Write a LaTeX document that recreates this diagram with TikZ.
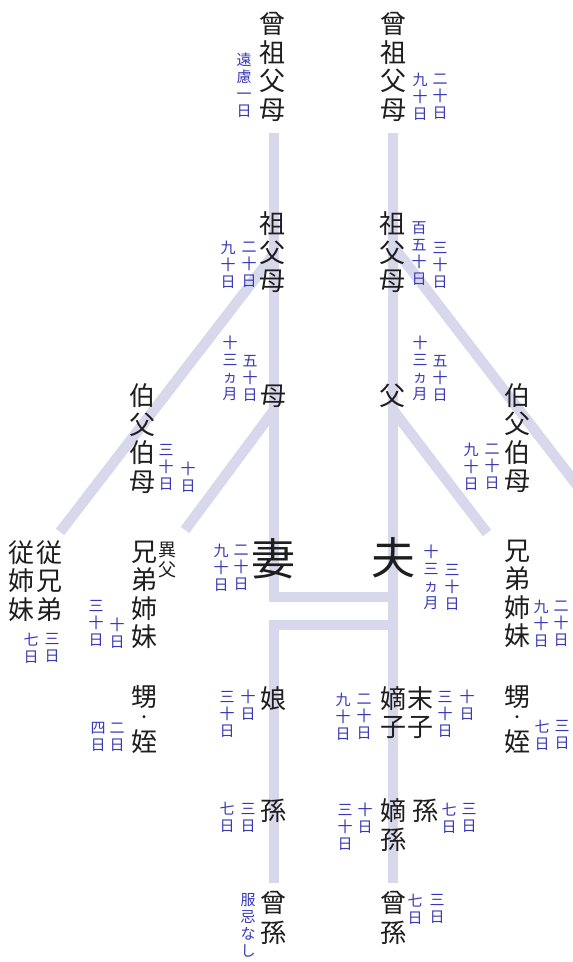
\documentclass[tikz,border=0pt]{standalone}
\usepackage{fontspec}
\newfontfamily\jp{Noto Sans CJK JP}
\definecolor{bandcol}{RGB}{216,216,237}
\definecolor{noteblue}{RGB}{55,55,185}
\definecolor{kinblack}{RGB}{30,30,30}
\tikzset{
  kin/.style={font=\jp\fontsize{26}{28.5}\selectfont, align=center, inner sep=0pt, text=kinblack},
  kinB/.style={font=\jp\fontsize{26}{30}\selectfont, align=center, inner sep=0pt, text=kinblack},
  note/.style={font=\jp\fontsize{15}{17}\selectfont, align=center, inner sep=0pt, text=noteblue},
  bigkin/.style={font=\jp\fontsize{44}{44}\selectfont, inner sep=0pt, text=kinblack},
  smallkin/.style={font=\jp\fontsize{18}{20}\selectfont, align=center, inner sep=0pt, text=kinblack},
  dotkin/.style={font=\jp\fontsize{14}{14}\selectfont, inner sep=0pt, text=kinblack},
  bandline/.style={draw=bandcol, line width=10.5pt, line join=miter},
}
\begin{document}
\begin{tikzpicture}[x=1pt,y=-1pt]
\fill[white] (0,0) rectangle (573,962);
\useasboundingbox (0,0) rectangle (573,962);

% ---- structure coordinates
\coordinate (topL) at (274,133);
\coordinate (topR) at (393,133);
\coordinate (jL) at (274,597);
\coordinate (jR) at (393,597);
\coordinate (kL) at (274,625);
\coordinate (kR) at (393,625);
\coordinate (botL) at (274,883);
\coordinate (botR) at (393,883);
\coordinate (d1s) at (274,254);
\coordinate (d1e) at (60,532);
\coordinate (d2s) at (274,410);
\coordinate (d2e) at (185,530);
\coordinate (d3s) at (393,246);
\coordinate (d3e) at (590,502);
\coordinate (d4s) at (393,410);
\coordinate (d4e) at (487,533);

% ---- bands
\draw[bandline] (topL) -- (jL) -- (jR);
\draw[bandline] (kR) -- (kL) -- (botL);
\draw[bandline] (topR) -- (botR);
\draw[bandline] (d1s) -- (d1e);
\draw[bandline] (d2s) -- (d2e);
\draw[bandline] (d3s) -- (d3e);
\draw[bandline] (d4s) -- (d4e);

% ---- row 1
\node[kin] (ssfbL) at (272,67) {曾\\祖\\父\\母};
\node[note] (enryo) at (244,85) {遠\\慮\\一\\日};
\node[kin] (ssfbR) at (393,67) {曾\\祖\\父\\母};
\node[note] (ssfbR90) at (420,96.5) {九\\十\\日};
\node[note] (ssfbR20) at (440,96.5) {二\\十\\日};

% ---- row 2
\node[kin] (sfbL) at (272,252.5) {祖\\父\\母};
\node[note] (sfbL90) at (228,265) {九\\十\\日};
\node[note] (sfbL20) at (249,265) {二\\十\\日};
\node[kin] (sfbR) at (392,252.5) {祖\\父\\母};
\node[note] (sfbR150) at (419,253.5) {百\\五\\十\\日};
\node[note] (sfbR30) at (440,265) {三\\十\\日};

% ---- row 3
\node[kin] (haha) at (273,396) {母};
\node[note] (haha13) at (230,368.5) {十\\三\\ヵ\\月};
\node[note] (haha50) at (250,378.5) {五\\十\\日};
\node[kin] (chichi) at (392,396) {父};
\node[note] (chichi13) at (420,368.5) {十\\三\\ヵ\\月};
\node[note] (chichi50) at (440,378.5) {五\\十\\日};
\node[kin] (ofbL) at (142,438.5) {伯\\父\\伯\\母};
\node[note] (ofbL30) at (166,467) {三\\十\\日};
\node[note] (ofbL10) at (188,477) {十\\日};
\node[kin] (ofbR) at (517,438) {伯\\父\\伯\\母};
\node[note] (ofbR90) at (471,467) {九\\十\\日};
\node[note] (ofbR20) at (492,467) {二\\十\\日};

% ---- row 4
\node[kin] (itokoF) at (22,581) {従\\姉\\妹};
\node[kin] (itokoM) at (49,581) {従\\兄\\弟};
\node[note] (itoko7) at (31,648) {七\\日};
\node[note] (itoko3) at (52,648) {三\\日};
\node[kin] (kyodaiL) at (144,595) {兄\\弟\\姉\\妹};
\node[smallkin] (ifu) at (167,560) {異\\父};
\node[note] (kyodaiL30) at (96,623) {三\\十\\日};
\node[note] (kyodaiL10) at (117,633) {十\\日};
\node[note] (tsuma90) at (221,568) {九\\十\\日};
\node[note] (tsuma20) at (241,568) {二\\十\\日};
\node[bigkin] (tsuma) at (273,559) {妻};
\node[bigkin] (otto) at (393,558) {夫};
\node[note] (otto13) at (431,577.5) {十\\三\\ヵ\\月};
\node[note] (otto30) at (452,587) {三\\十\\日};
\node[kin] (kyodaiR) at (517,594) {兄\\弟\\姉\\妹};
\node[note] (kyodaiR90) at (541,624) {九\\十\\日};
\node[note] (kyodaiR20) at (561,624) {二\\十\\日};

% ---- row 5
\node[kin] (oiL) at (144,696.5) {甥};
\node[dotkin] (dotL) at (144,719) {・};
\node[kin] (meiL) at (144,741.5) {姪};
\node[note] (oimeiL4) at (98,737) {四\\日};
\node[note] (oimeiL2) at (117,737) {二\\日};
\node[kin] (musume) at (273,698.5) {娘};
\node[note] (musume30) at (227,714) {三\\十\\日};
\node[note] (musume10) at (248,705) {十\\日};
\node[note] (chakushi90) at (343,717) {九\\十\\日};
\node[note] (chakushi20) at (364,717) {二\\十\\日};
\node[kin] (chakushi) at (393,712.5) {嫡\\子};
\node[kin] (basshi) at (420,712.5) {末\\子};
\node[note] (basshi30) at (445,714) {三\\十\\日};
\node[note] (basshi10) at (467,705) {十\\日};
\node[kin] (oiR) at (517,697) {甥};
\node[dotkin] (dotR) at (517,719.5) {・};
\node[kin] (meiR) at (517,742) {姪};
\node[note] (oimeiR7) at (542,735) {七\\日};
\node[note] (oimeiR3) at (562,735) {三\\日};

% ---- row 6
\node[kin] (magoL) at (273,810.5) {孫};
\node[note] (magoL7) at (227,817.5) {七\\日};
\node[note] (magoL3) at (248,817.5) {三\\日};
\node[note] (chakuson30) at (345,827.5) {三\\十\\日};
\node[note] (chakuson10) at (365,818.5) {十\\日};
\node[kin] (chakuson) at (393,825) {嫡\\孫};
\node[kin] (magoR) at (425,810.5) {孫};
\node[note] (magoR7) at (449,818) {七\\日};
\node[note] (magoR3) at (469,818) {三\\日};

% ---- row 7
\node[kinB] (himagoL) at (273,917.5) {曾\\孫};
\node[note] (fukuki) at (248,925) {服\\忌\\な\\し};
\node[kinB] (himagoR) at (393,917.5) {曾\\孫};
\node[note] (himagoR7) at (415,909) {七\\日};
\node[note] (himagoR3) at (437,909) {三\\日};
\end{tikzpicture}
\end{document}
